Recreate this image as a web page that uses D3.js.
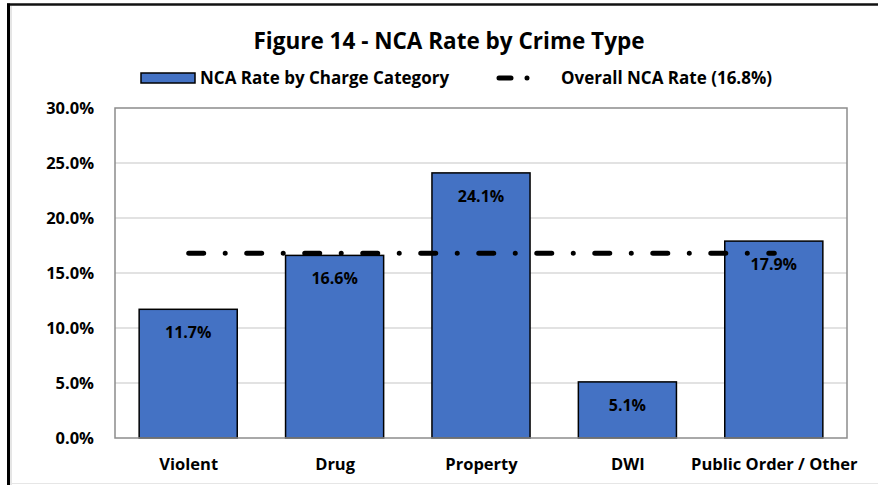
<!DOCTYPE html>
<html>
<head>
<meta charset="utf-8">
<script src="https://cdn.jsdelivr.net/npm/d3@7"></script>
<style>
  html, body { margin: 0; padding: 0; background: #fff; }
  svg { display: block; }
  text { font-family: "Open Sans", "Noto Sans", sans-serif; font-weight: bold; fill: #000; }
</style>
</head>
<body>
<svg id="chart" width="878" height="485"></svg>
<script>
// Figure 14 data: NCA rate per charge category
const categories = ["Violent", "Drug", "Property", "DWI", "Public Order / Other"];
const ncaRates = [11.7, 16.6, 24.1, 5.1, 17.9];
const overallRate = 16.8;
const yTicks = [0, 5, 10, 15, 20, 25, 30];
const titleText = "Figure 14 - NCA Rate by Crime Type";
const barLegendText = "NCA Rate by Charge Category";
const lineLegendText = "Overall NCA Rate (16.8%)";

const svg = d3.select("#chart");
const W = 878, H = 485;
const plot = { left: 115, right: 847, top: 108, bottom: 438 };
const fontFamily = "Open Sans, Noto Sans, sans-serif";

// outer frame
svg.append("rect").attr("x", 0).attr("y", 0).attr("width", W).attr("height", H).attr("fill", "#fff");
svg.append("line").attr("x1", 7).attr("x2", W).attr("y1", 4.5).attr("y2", 4.5)
  .attr("stroke", "#111").attr("stroke-width", 2.5);
svg.append("line").attr("x1", 8.5).attr("x2", 8.5).attr("y1", 3.5).attr("y2", H)
  .attr("stroke", "#000").attr("stroke-width", 3);
svg.append("line").attr("x1", 11).attr("x2", 11).attr("y1", 6).attr("y2", H)
  .attr("stroke", "#ccc").attr("stroke-width", 1);
svg.append("line").attr("x1", 12).attr("x2", W).attr("y1", 483.5).attr("y2", 483.5)
  .attr("stroke", "#e6e6e6").attr("stroke-width", 1);

const x = d3.scaleBand().domain(categories).range([plot.left, plot.right]).paddingInner(0.33).paddingOuter(0.165);
const xc = d3.scalePoint().domain(categories).range([plot.left, plot.right]).padding(0.5);
const y = d3.scaleLinear().domain([0, 30]).range([plot.bottom, plot.top]);

// gridlines
svg.append("g").selectAll("line").data(yTicks.filter(t => t > 0 && t < 30)).join("line")
  .attr("x1", plot.left).attr("x2", plot.right)
  .attr("y1", d => y(d)).attr("y2", d => y(d))
  .attr("stroke", "#d9d9d9").attr("stroke-width", 1.5);

// y axis labels
const yAxis = d3.axisLeft(y).tickValues(yTicks).tickSize(0).tickPadding(0)
  .tickFormat(d => d.toFixed(1) + "%");
const gy = svg.append("g").attr("transform", "translate(94,0)").call(yAxis);
gy.select(".domain").remove();
gy.selectAll("text").attr("font-size", 16.5).attr("font-family", fontFamily)
  .attr("font-weight", "bold").attr("fill", "#000").attr("dy", "0.35em");

// bars
svg.append("g").selectAll("rect").data(categories).join("rect")
  .attr("x", d => x(d)).attr("width", x.bandwidth())
  .attr("y", (d, i) => y(ncaRates[i])).attr("height", (d, i) => y(0) - y(ncaRates[i]))
  .attr("fill", "#4472C4").attr("stroke", "#000").attr("stroke-width", 1.5);

// plot border
svg.append("rect").attr("x", plot.left).attr("y", plot.top)
  .attr("width", plot.right - plot.left).attr("height", plot.bottom - plot.top)
  .attr("fill", "none").attr("stroke", "#8c8c8c").attr("stroke-width", 1.5);

// overall rate line
const dashPattern = "15,21.5,0.01,21.5";
svg.append("line")
  .attr("x1", xc(categories[0])).attr("x2", xc(categories[categories.length - 1]))
  .attr("y1", y(overallRate)).attr("y2", y(overallRate))
  .attr("stroke", "#000").attr("stroke-width", 5).attr("stroke-linecap", "round")
  .attr("stroke-dasharray", dashPattern).attr("transform", "translate(0.5,0)");

// value labels
svg.append("g").selectAll("text").data(categories).join("text")
  .attr("x", d => x(d) + x.bandwidth() / 2)
  .attr("y", (d, i) => y(ncaRates[i]) + 29)
  .attr("text-anchor", "middle").attr("font-size", 16)
  .text((d, i) => ncaRates[i].toFixed(1) + "%");

// x axis labels
const xAxis = d3.axisBottom(xc).tickSize(0).tickPadding(0);
const gx = svg.append("g").attr("transform", `translate(0,${plot.bottom + 32})`).call(xAxis);
gx.select(".domain").remove();
gx.selectAll("text").attr("font-size", 16.5).attr("font-family", fontFamily)
  .attr("font-weight", "bold").attr("fill", "#000").attr("dy", 0);

// title
svg.append("text").attr("x", 449).attr("y", 49).attr("text-anchor", "middle")
  .attr("font-size", 22.5).text(titleText);

// legend
const lg = svg.append("g");
lg.append("rect").attr("x", 141).attr("y", 73).attr("width", 54).attr("height", 10)
  .attr("fill", "#4472C4").attr("stroke", "#000").attr("stroke-width", 1.5);
lg.append("text").attr("x", 200).attr("y", 84).attr("font-size", 17).text(barLegendText);
lg.append("line").attr("x1", 499).attr("x2", 540).attr("y1", 78).attr("y2", 78)
  .attr("stroke", "#000").attr("stroke-width", 5).attr("stroke-linecap", "round")
  .attr("stroke-dasharray", "12,16,0.01,40");
lg.append("text").attr("x", 561).attr("y", 84).attr("font-size", 17).text(lineLegendText);
</script>
</body>
</html>
